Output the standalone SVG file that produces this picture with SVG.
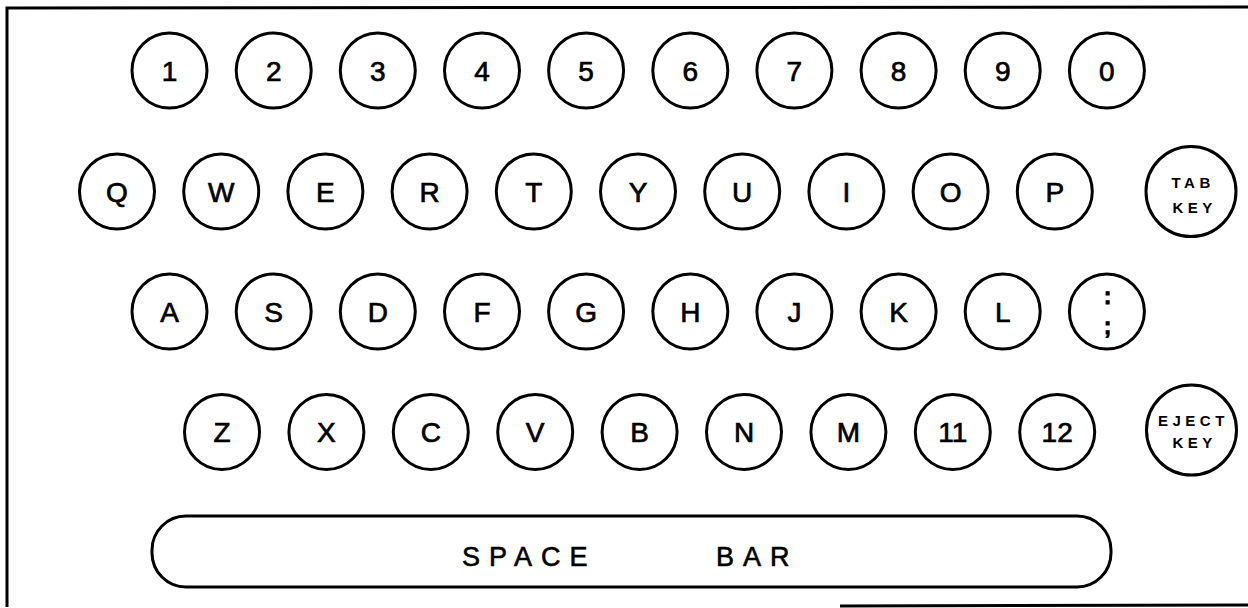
<svg xmlns="http://www.w3.org/2000/svg" width="1248" height="608" viewBox="0 0 1248 608">
<style>
.key{fill:#fff;stroke:#000;stroke-width:3}
.lbl{font-family:"Liberation Sans",Arial,sans-serif;font-size:28px;fill:#000;stroke:#000;stroke-width:0.7px;text-anchor:middle}
.sm{font-family:"Liberation Sans",Arial,sans-serif;font-size:15px;font-weight:bold;fill:#000;letter-spacing:4.5px}
.bar{font-family:"Liberation Sans",Arial,sans-serif;font-size:27px;fill:#000;stroke:#000;stroke-width:0.6px;letter-spacing:9px}
.punct{font-family:"Liberation Sans",Arial,sans-serif;font-size:23px;font-weight:bold;fill:#000;stroke:#000;stroke-width:0.8px;text-anchor:middle}
.frame{stroke:#000;fill:none;stroke-width:3}
</style>
<rect width="1248" height="608" fill="#fff"/>
<g id="frame">
<path class="frame" d="M7,607 L7,8 L1248,7"/>
<path class="frame" d="M840,606 L1248,605"/>
</g>
<g id="row1">
<g id="key-1"><circle class="key" cx="169.5" cy="70.5" r="37.5"/><text class="lbl" x="169.5" y="80.5">1</text></g>
<g id="key-2"><circle class="key" cx="273.7" cy="70.5" r="37.5"/><text class="lbl" x="273.7" y="80.5">2</text></g>
<g id="key-3"><circle class="key" cx="377.8" cy="70.5" r="37.5"/><text class="lbl" x="377.8" y="80.5">3</text></g>
<g id="key-4"><circle class="key" cx="482" cy="70.5" r="37.5"/><text class="lbl" x="482" y="80.5">4</text></g>
<g id="key-5"><circle class="key" cx="586.1" cy="70.5" r="37.5"/><text class="lbl" x="586.1" y="80.5">5</text></g>
<g id="key-6"><circle class="key" cx="690.3" cy="70.5" r="37.5"/><text class="lbl" x="690.3" y="80.5">6</text></g>
<g id="key-7"><circle class="key" cx="794.4" cy="70.5" r="37.5"/><text class="lbl" x="794.4" y="80.5">7</text></g>
<g id="key-8"><circle class="key" cx="898.6" cy="70.5" r="37.5"/><text class="lbl" x="898.6" y="80.5">8</text></g>
<g id="key-9"><circle class="key" cx="1002.7" cy="70.5" r="37.5"/><text class="lbl" x="1002.7" y="80.5">9</text></g>
<g id="key-0"><circle class="key" cx="1106.9" cy="70.5" r="37.5"/><text class="lbl" x="1106.9" y="80.5">0</text></g>
</g>
<g id="row2">
<g id="key-Q"><circle class="key" cx="117" cy="191.5" r="37.5"/><text class="lbl" x="117" y="201.5">Q</text></g>
<g id="key-W"><circle class="key" cx="221.2" cy="191.5" r="37.5"/><text class="lbl" x="221.2" y="201.5">W</text></g>
<g id="key-E"><circle class="key" cx="325.4" cy="191.5" r="37.5"/><text class="lbl" x="325.4" y="201.5">E</text></g>
<g id="key-R"><circle class="key" cx="429.6" cy="191.5" r="37.5"/><text class="lbl" x="429.6" y="201.5">R</text></g>
<g id="key-T"><circle class="key" cx="533.8" cy="191.5" r="37.5"/><text class="lbl" x="533.8" y="201.5">T</text></g>
<g id="key-Y"><circle class="key" cx="638" cy="191.5" r="37.5"/><text class="lbl" x="638" y="201.5">Y</text></g>
<g id="key-U"><circle class="key" cx="742.2" cy="191.5" r="37.5"/><text class="lbl" x="742.2" y="201.5">U</text></g>
<g id="key-I"><circle class="key" cx="846.4" cy="191.5" r="37.5"/><text class="lbl" x="846.4" y="201.5">I</text></g>
<g id="key-O"><circle class="key" cx="950.6" cy="191.5" r="37.5"/><text class="lbl" x="950.6" y="201.5">O</text></g>
<g id="key-P"><circle class="key" cx="1054.8" cy="191.5" r="37.5"/><text class="lbl" x="1054.8" y="201.5">P</text></g>
<g id="key-tab"><circle class="key" cx="1191" cy="191.5" r="45"/><text class="sm" x="1171.5" y="187.5">TAB</text><text class="sm" x="1172.5" y="212.5">KEY</text></g>
</g>
<g id="row3">
<g id="key-A"><circle class="key" cx="169.5" cy="311.5" r="37.5"/><text class="lbl" x="169.5" y="321.5">A</text></g>
<g id="key-S"><circle class="key" cx="273.7" cy="311.5" r="37.5"/><text class="lbl" x="273.7" y="321.5">S</text></g>
<g id="key-D"><circle class="key" cx="377.8" cy="311.5" r="37.5"/><text class="lbl" x="377.8" y="321.5">D</text></g>
<g id="key-F"><circle class="key" cx="482" cy="311.5" r="37.5"/><text class="lbl" x="482" y="321.5">F</text></g>
<g id="key-G"><circle class="key" cx="586.1" cy="311.5" r="37.5"/><text class="lbl" x="586.1" y="321.5">G</text></g>
<g id="key-H"><circle class="key" cx="690.3" cy="311.5" r="37.5"/><text class="lbl" x="690.3" y="321.5">H</text></g>
<g id="key-J"><circle class="key" cx="794.4" cy="311.5" r="37.5"/><text class="lbl" x="794.4" y="321.5">J</text></g>
<g id="key-K"><circle class="key" cx="898.6" cy="311.5" r="37.5"/><text class="lbl" x="898.6" y="321.5">K</text></g>
<g id="key-L"><circle class="key" cx="1002.7" cy="311.5" r="37.5"/><text class="lbl" x="1002.7" y="321.5">L</text></g>
<g id="key-semicolon"><circle class="key" cx="1106.9" cy="311.5" r="37.5"/><text class="punct" x="1107.5" y="304">:</text><text class="punct" x="1107.5" y="334">;</text></g>
</g>
<g id="row4">
<g id="key-Z"><circle class="key" cx="222" cy="432" r="37.5"/><text class="lbl" x="222" y="442">Z</text></g>
<g id="key-X"><circle class="key" cx="326.4" cy="432" r="37.5"/><text class="lbl" x="326.4" y="442">X</text></g>
<g id="key-C"><circle class="key" cx="430.8" cy="432" r="37.5"/><text class="lbl" x="430.8" y="442">C</text></g>
<g id="key-V"><circle class="key" cx="535.2" cy="432" r="37.5"/><text class="lbl" x="535.2" y="442">V</text></g>
<g id="key-B"><circle class="key" cx="639.6" cy="432" r="37.5"/><text class="lbl" x="639.6" y="442">B</text></g>
<g id="key-N"><circle class="key" cx="744" cy="432" r="37.5"/><text class="lbl" x="744" y="442">N</text></g>
<g id="key-M"><circle class="key" cx="848.4" cy="432" r="37.5"/><text class="lbl" x="848.4" y="442">M</text></g>
<g id="key-11"><circle class="key" cx="952.8" cy="432" r="37.5"/><text class="lbl" x="952.8" y="442">11</text></g>
<g id="key-12"><circle class="key" cx="1057.2" cy="432" r="37.5"/><text class="lbl" x="1057.2" y="442">12</text></g>
<g id="key-eject"><circle class="key" cx="1191.5" cy="430" r="45"/><text class="sm" x="1158" y="426">EJECT</text><text class="sm" x="1172.5" y="448">KEY</text></g>
</g>
<g id="key-space">
<rect class="key" x="152" y="516" width="959" height="71" rx="34" ry="34"/>
<text class="bar" x="462" y="566">SPACE</text>
<text class="bar" x="716" y="566">BAR</text>
</g>
<g id="connectors"/>
</svg>
